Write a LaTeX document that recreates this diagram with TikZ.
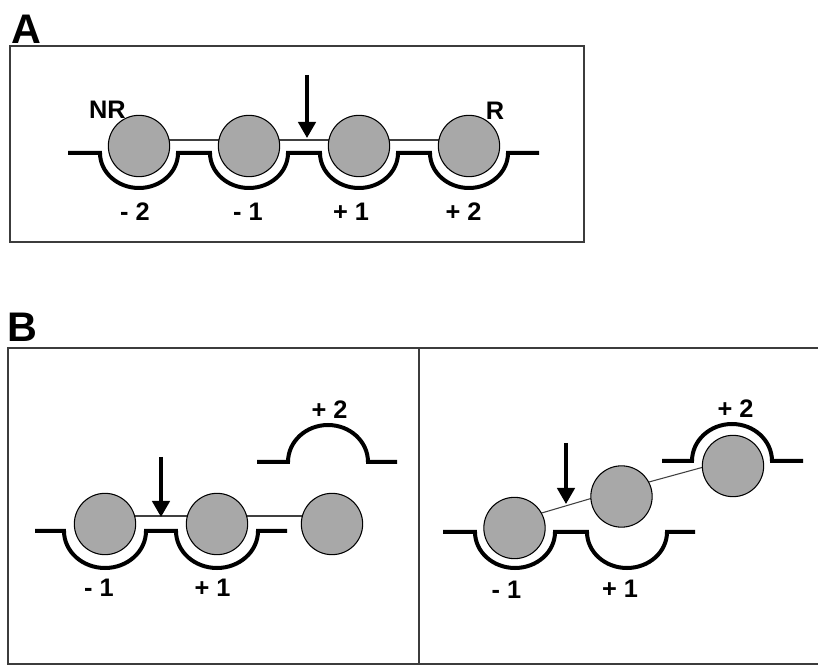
\documentclass[tikz,border=0pt]{standalone}
\usepackage{fontspec}
\setmainfont{Liberation Sans}
\usetikzlibrary{calc,arrows.meta,backgrounds}
\definecolor{ballgray}{RGB}{168,168,168}
\definecolor{framegray}{RGB}{60,60,60}
\tikzset{
  ball/.style={circle,draw=black,line width=0.8pt,fill=ballgray,minimum size=46pt,inner sep=0pt},
  surface/.style={line width=3pt,draw=black},
  tether/.style={line width=0.8pt,draw=black!75},
  pointer/.style={line width=2.6pt,-{Triangle[width=13pt,length=12pt]}},
  frame/.style={line width=1.2pt,draw=framegray},
  site/.style={font=\fontsize{19}{22}\selectfont\bfseries,inner sep=0pt},
  panel/.style={font=\fontsize{31}{34}\selectfont\bfseries,inner sep=0pt}
}
\begin{document}
\begin{tikzpicture}[x=0.75pt,y=-0.75pt]
\useasboundingbox (0,0) rectangle (818,666);

% ---------- panel A ----------
\node[panel] (labA) at (26.5,29.5) {A};
\draw[frame] (10,46) rectangle (584,242);

\draw[surface] (68,153) -- (100,153) arc[start angle=180,end angle=0,x radius=39,y radius=35]
  -- (210,153) arc[start angle=180,end angle=0,x radius=39,y radius=35]
  -- (320,153) arc[start angle=180,end angle=0,x radius=39,y radius=35]
  -- (430,153) arc[start angle=180,end angle=0,x radius=39,y radius=35]
  -- (539,153);

\node[ball] (a1) at (139,146) {};
\node[ball] (a2) at (249,146) {};
\node[ball] (a3) at (359,146) {};
\node[ball] (a4) at (469,146) {};
\begin{scope}[on background layer]
  \draw[tether] ($(a1)+(0,-6)$) -- ($(a4)+(0,-6)$);
\end{scope}

\node[site] (nr) at (107.5,110) {NR};
\node[site] (r) at (495,111) {R};
\node[site] (am2) at (135,212) {- 2};
\node[site] (am1) at (248,212) {- 1};
\node[site] (ap1) at (351,212) {+ 1};
\node[site] (ap2) at (463.5,212) {+ 2};

\coordinate (arAs) at (307,75);
\coordinate (arAe) at (307,138);
\draw[pointer] (arAs) -- (arAe);

% ---------- panel B ----------
\node[panel] (labB) at (22.5,327) {B};
\draw[frame] (818,348) -- (8,348) -- (8,664) -- (818,664);
\draw[frame] (419,348) -- (419,664);

% left half
\draw[surface] (35,531) -- (64,531) arc[start angle=180,end angle=0,x radius=41,y radius=37]
  -- (176,531) arc[start angle=180,end angle=0,x radius=41,y radius=37]
  -- (287,531);
\draw[surface] (257,462) -- (288,462) arc[start angle=180,end angle=360,x radius=40,y radius=37]
  -- (397,462);

\node[ball] (b1) at (105,524) {};
\node[ball] (b2) at (217,524) {};
\node[ball] (b3) at (332,524) {};
\begin{scope}[on background layer]
  \draw[tether] ($(b1)+(0,-8)$) -- ($(b3)+(0,-8)$);
\end{scope}

\node[site] (bp2) at (329.5,410) {+ 2};
\node[site] (bm1) at (99,588) {- 1};
\node[site] (bp1) at (212.5,588) {+ 1};

\coordinate (arBs) at (161,457);
\coordinate (arBe) at (161,517);
\draw[pointer] (arBs) -- (arBe);

% right half
\draw[surface] (443,532) -- (475,532) arc[start angle=180,end angle=0,x radius=40,y radius=36]
  -- (587,532) arc[start angle=180,end angle=0,x radius=40,y radius=36]
  -- (695,532);
\draw[surface] (662,461) -- (692,461) arc[start angle=180,end angle=360,x radius=40,y radius=37]
  -- (803,461);

\node[ball] (c1) at (514.5,528) {};
\node[ball] (c2) at (621.5,496.5) {};
\node[ball] (c3) at (733,466) {};
\begin{scope}[on background layer]
  \draw[tether] ($(c1)+(0,-7)$) -- ($(c2)+(0,-7)$) -- ($(c3)+(0,-7)$);
\end{scope}

\node[site] (cp2) at (735.5,408.5) {+ 2};
\node[site] (cm1) at (506.5,589.5) {- 1};
\node[site] (cp1) at (620,589) {+ 1};

\coordinate (arCs) at (566,443);
\coordinate (arCe) at (566,504);
\draw[pointer] (arCs) -- (arCe);
\end{tikzpicture}
\end{document}
